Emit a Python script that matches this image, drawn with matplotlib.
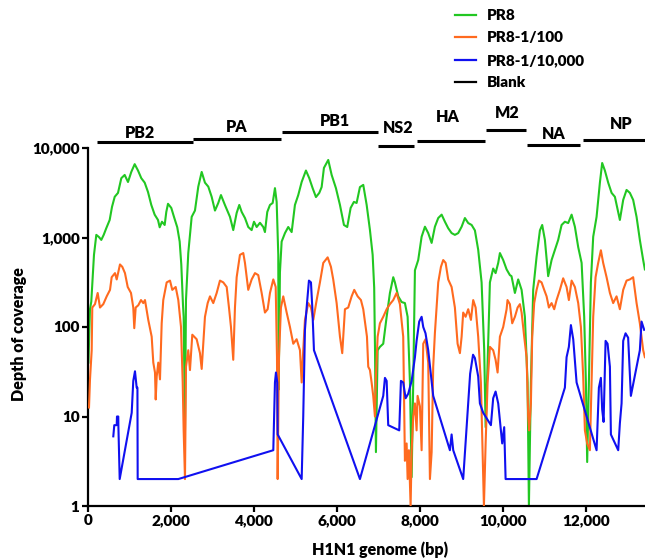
import matplotlib
matplotlib.use("Agg")
import matplotlib.pyplot as plt
from matplotlib.ticker import FixedLocator, FixedFormatter, NullLocator
import matplotlib.transforms as mtransforms

plt.rcParams['font.family'] = ['Lato', 'DejaVu Sans']
plt.rcParams['font.weight'] = 'heavy'

# ---------------- data ----------------
pr8_bp = [10, 48, 79, 144, 200, 265, 320, 378, 440, 522, 578, 643, 722, 802, 883, 963, 1042, 1124, 1204,
          1283, 1365, 1444, 1524, 1605, 1685, 1726, 1781, 1846, 1885, 1926, 2005, 2070, 2149, 2207,
          2246, 2287, 2303, 2335, 2359, 2414,
          2496, 2575, 2655, 2737, 2816, 2896, 2977, 3057, 3136, 3201, 3298,
          3418, 3497, 3579, 3642, 3700, 3779, 3858, 3940, 3996, 4061, 4140, 4220, 4260, 4316, 4381,
          4446, 4501, 4542, 4581, 4590, 4621, 4662, 4742, 4821, 4903, 4982, 5062, 5144, 5247, 5327,
          5408, 5488, 5568, 5625, 5680, 5784, 5866, 5969, 6066, 6162, 6241, 6323, 6402, 6467, 6547,
          6627, 6709, 6788, 6853, 6890, 6910, 6932, 6973, 7028, 7108, 7190, 7269,
          7349, 7389, 7469, 7551, 7630, 7695, 7751, 7792, 7830, 7871, 7950, 8032, 8112, 8191, 8273,
          8352, 8432, 8514, 8593, 8672, 8754, 8833, 8913, 8995, 9074, 9154, 9236, 9315, 9394, 9476,
          9539, 9573, 9621, 9676, 9755, 9813, 9876, 9917, 9996, 10078, 10157, 10196, 10278, 10357,
          10439, 10518, 10583, 10615, 10663, 10718, 10800, 10880, 10935, 11000, 11079, 11161, 11241,
          11320, 11402, 11481, 11561, 11643, 11722, 11802, 11884, 11946, 11987, 12018, 12059, 12107,
          12163, 12244, 12324, 12379, 12444, 12524, 12606, 12685, 12805, 12885, 12966, 13046, 13125,
          13207, 13286, 13366, 13407]
pr8_depth = [40, 158, 192, 640, 1070, 1010, 940, 1070, 1270, 1570, 2200, 2850, 3150, 4600, 5000, 4170,
             5400, 6600, 5600, 4600, 4100, 3230, 2310, 1800, 1570, 1300, 1500, 1380, 1930, 2380, 2140,
             1700, 1300, 900, 500, 176, 130, 7, 200, 670,
             1700, 2000, 3700, 5400, 4100, 3700, 2850, 2000, 2430, 2980, 2300,
             1700, 1210, 1880, 2310, 1930, 1650, 1310, 1210, 1500, 1310, 1460, 1310, 1150, 1930, 2310,
             2430, 3560, 2500, 640, 20, 410, 900, 1120, 1310, 1150, 2310, 2980, 4170, 5600, 4600,
             3560, 2830, 3150, 3660, 5990, 7350, 5000, 3560, 2310, 1380, 1310, 2140, 2500, 2430, 3660,
             3870, 2310, 1210, 640, 275, 55, 4, 55, 60, 65, 130, 240,
             360, 315, 220, 190, 185, 130, 24, 2.1, 24, 430, 560, 1020, 1320, 1120, 870,
             1320, 1650, 1800, 1500, 1270, 1120, 1070, 1120, 1320, 1650, 1450, 1380, 1200, 730, 315,
             55, 7.6, 40, 315, 450, 400, 520, 670, 560, 440, 380, 370, 240, 340,
             260, 130, 24, 1.0, 24, 260, 610, 1200, 1380, 940, 370, 560, 730,
             940, 1380, 1500, 1450, 1800, 1320, 780, 520, 130, 24, 3.1, 24, 315,
             1020, 1700, 4100, 6800, 5600, 4100, 3150, 2850, 1570, 2630, 3400, 3150, 2630,
             1700, 940, 560, 440]

pr8_100_bp = [24, 48, 89, 103, 168, 233, 289, 368, 450, 530, 570, 650, 691, 770, 826, 890, 956, 1035,
              1090, 1114, 1148, 1211, 1276, 1331, 1372, 1451, 1533, 1572, 1613, 1630, 1654, 1692, 1733,
              1774, 1812, 1894, 1974, 2029, 2111, 2174, 2239, 2280, 2303, 2335, 2359, 2414, 2455, 2511,
              2616, 2696, 2737, 2775, 2816, 2881, 2937, 3016, 3098, 3177, 3257, 3339, 3394, 3442, 3497,
              3538, 3579, 3658, 3738, 3779, 3858, 3940, 4020, 4099, 4181, 4260, 4325, 4381, 4461, 4519,
              4550, 4566, 4598, 4645, 4701, 4783, 4862, 4942, 5023, 5103, 5144, 5182, 5223, 5303, 5368,
              5424, 5505, 5584, 5664, 5770, 5849, 5904, 5986, 6066, 6121, 6186, 6265, 6347, 6410, 6492,
              6571, 6627, 6716, 6747, 6788, 6828, 6867, 6908, 6932, 6973, 7028, 7108, 7190, 7269, 7349,
              7429, 7509, 7589, 7613, 7630, 7671, 7695, 7726, 7767, 7792, 7830, 7871, 7911, 7935, 7991,
              8032, 8071, 8126, 8191, 8232, 8273, 8311, 8352, 8432, 8497, 8552, 8610, 8672, 8754, 8833,
              8898, 8954, 8995, 9033, 9091, 9154, 9219, 9274, 9332, 9394, 9459, 9490, 9532, 9573, 9621,
              9676, 9755, 9813, 9861, 9917, 9996, 10078, 10100, 10157, 10213, 10278, 10343, 10398, 10439,
              10502, 10559, 10598, 10622, 10663, 10694, 10742, 10800, 10856, 10920, 10983, 11041, 11096,
              11161, 11224, 11281, 11361, 11440, 11522, 11577, 11643, 11722, 11802, 11867, 11922, 11963,
              12018, 12083, 12124, 12163, 12220, 12283, 12348, 12403, 12485, 12565, 12644, 12725, 12805,
              12885, 12966, 13046, 13125, 13207, 13286, 13366, 13407]
pr8_100_depth = [12.6, 26, 55, 165, 180, 240, 165, 180, 220, 260, 360, 400, 340, 500, 470, 400, 280, 240,
                 165, 97, 165, 175, 200, 185, 200, 120, 78, 40, 31, 15.5, 28, 40, 26,
                 110, 200, 315, 330, 260, 280, 200, 100, 24, 7, 2, 36, 55, 33, 82,
                 73, 51, 34, 65, 130, 185, 220, 185, 240, 330, 315, 280, 165, 100, 43,
                 165, 360, 640, 670, 520, 260, 340, 400, 380, 240, 145, 158, 240, 340, 280,
                 46, 2.0, 46, 165, 220, 145, 100, 65, 73, 55, 24, 55, 120, 185, 165,
                 120, 200, 315, 520, 600, 470, 340, 185, 78, 51, 158, 165, 220, 260, 220,
                 200, 158, 78, 36, 33, 24, 17, 10, 28, 78, 110, 130, 158, 180, 200,
                 240, 180, 78, 12, 3.2, 5, 2, 4.2, 1.0, 4.2, 10, 14, 7, 17, 13,
                 4.2, 65, 73, 40, 2, 4, 36, 86, 315, 470, 560, 520, 340, 280, 165,
                 65, 51, 78, 145, 130, 158, 120, 200, 165, 78, 24, 6, 1.0, 5, 24,
                 60, 55, 43, 31, 78, 100, 158, 200, 180, 110, 130, 165, 180, 145,
                 78, 46, 10, 7, 14, 78, 185, 260, 330, 315, 260, 220, 165,
                 185, 158, 200, 260, 350, 280, 200, 330, 280, 185, 100, 28, 7,
                 5, 4.2, 24, 130, 360, 520, 720, 520, 360, 240, 185, 220, 158,
                 260, 330, 340, 360, 185, 110, 55, 46]

pr8_10k_bp = [609, 633, 691, 698, 729, 731, 763, 1052, 1090, 1131, 1172, 1190, 1196, 2174, 4461, 4501,
              4525, 4557, 4566, 5144, 5182, 5223, 5264, 5319, 5368, 5400, 5440, 6547, 7108, 7149, 7190,
              7228, 7493, 7534, 7589, 7647, 7710, 7792, 7871, 7911, 7974, 8032, 8071, 8126, 8191, 8311,
              8713, 8754, 8793, 9033, 9200, 9270, 9315, 9394, 9435, 9515, 9700, 9755, 9813, 9876, 9972,
              10020, 10054, 10800, 11481, 11522, 11577, 11626, 11682, 11763, 12244, 12300, 12348, 12379,
              12413, 12461, 12509, 12565, 12589, 12765, 12805, 12846, 12885, 12942, 13004, 13070, 13286,
              13327, 13390]
pr8_10k_depth = [6, 8, 8, 10, 10, 8, 2, 11, 25, 32, 21, 21, 2, 2, 4.2, 24,
                 31, 24, 6.3, 2, 10, 93, 165, 330, 315, 165, 55, 2, 17, 27, 25,
                 8, 7, 25, 24, 16, 18, 25, 46, 70, 115, 130, 100, 85, 55, 17,
                 4.2, 6.3, 4.2, 2, 30, 49, 45, 28, 14, 11, 8, 16, 19, 14, 5,
                 7.6, 2, 2, 21, 46, 60, 105, 73, 24, 4.2, 21, 27, 12,
                 8.7, 70, 65, 36, 6.3, 4.2, 8.4, 14, 70, 85, 76, 17, 55,
                 115, 93]

series_labels = ['PR8', 'PR8-1/100', 'PR8-1/10,000', 'Blank']

segment_names = ['PB2', 'PA', 'PB1', 'NS2', 'HA', 'M2', 'NA', 'NP']
segment_start = [217, 2527, 4669, 6980, 7918, 9579, 10566, 11913]
segment_end = [2527, 4645, 6980, 7846, 9555, 10542, 11841, 13600]
segment_label_x = [1240, 3586, 5957, 7462, 8665, 10098, 11217, 12841]

x_ticks = [0, 2000, 4000, 6000, 8000, 10000, 12000]
x_tick_labels = ['0', '2,000', '4,000', '6,000', '8,000', '10,000', '12,000']
y_ticks = [1, 10, 100, 1000, 10000]
y_tick_labels = ['1', '10', '100', '1,000', '10,000']

# ---------------- styles ----------------
W, H = 645, 559
fig = plt.figure(figsize=(W / 100, H / 100), dpi=100)
ax = fig.add_axes([88 / W, 1 - 506 / H, (W - 88) / W, 358 / H])

colors = ['#22c722', '#ff6a1f', '#1010f0', '#000000']
LW = 1.5
ax.plot(pr8_bp, pr8_depth, color=colors[0], lw=LW, zorder=2, label=series_labels[0])
ax.plot(pr8_100_bp, pr8_100_depth, color=colors[1], lw=LW, zorder=3, label=series_labels[1])
ax.plot(pr8_10k_bp, pr8_10k_depth, color=colors[2], lw=LW, zorder=4, label=series_labels[2])
ax.plot([], [], color=colors[3], lw=LW, label=series_labels[3])

ax.set_yscale('log')
ax.set_ylim(1, 10000)
ax.set_xlim(0, 13410)

ax.yaxis.set_major_locator(FixedLocator(y_ticks))
ax.yaxis.set_major_formatter(FixedFormatter(y_tick_labels))
ax.yaxis.set_minor_locator(NullLocator())
ax.xaxis.set_major_locator(FixedLocator(x_ticks))
ax.xaxis.set_major_formatter(FixedFormatter(x_tick_labels))

for s in ['top', 'right']:
    ax.spines[s].set_visible(False)
for s in ['left', 'bottom']:
    ax.spines[s].set_linewidth(1.6)
ax.tick_params(axis='both', which='major', length=4, width=1.6, labelsize=11, pad=2)
for lab in ax.get_xticklabels() + ax.get_yticklabels():
    lab.set_fontweight('heavy')

ax.set_xlabel('H1N1 genome (bp)', fontsize=11.5, fontweight='heavy')
ax.xaxis.set_label_coords((380 - 88) / (W - 88), -(541 - 506) / 358)
ax.set_ylabel('Depth of coverage', fontsize=11.5, fontweight='heavy')
ax.yaxis.set_label_coords((27 - 88) / (W - 88), (506 - 334) / 358)

# segment bars above the plot (x in data, y in axes coords)
trans = mtransforms.blended_transform_factory(ax.transData, ax.transAxes)
bar_y = [1.017, 1.025, 1.045, 1.006, 1.0196, 1.050, 1.008, 1.022]
lab_y = [1.042, 1.059, 1.075, 1.056, 1.087, 1.098, 1.039, 1.067]
for name, x0, x1, lx, by, ly in zip(segment_names, segment_start, segment_end, segment_label_x, bar_y, lab_y):
    ax.plot([x0, x1], [by, by], color='black', lw=2.2, transform=trans, clip_on=False,
            solid_capstyle='butt')
    ax.text(lx, ly, name, transform=trans, ha='center', va='center', fontsize=11.5,
            fontweight='heavy', clip_on=False)

leg = fig.legend(loc='upper left', bbox_to_anchor=(455 / W, 1 - 9 / H), frameon=False,
                 fontsize=11, handlelength=1.4, handletextpad=0.7, labelspacing=0.62,
                 borderpad=0, borderaxespad=0)
for t in leg.get_texts():
    t.set_fontweight('heavy')
for l in leg.get_lines():
    l.set_linewidth(1.6)

fig.savefig('out.png', dpi=100)
